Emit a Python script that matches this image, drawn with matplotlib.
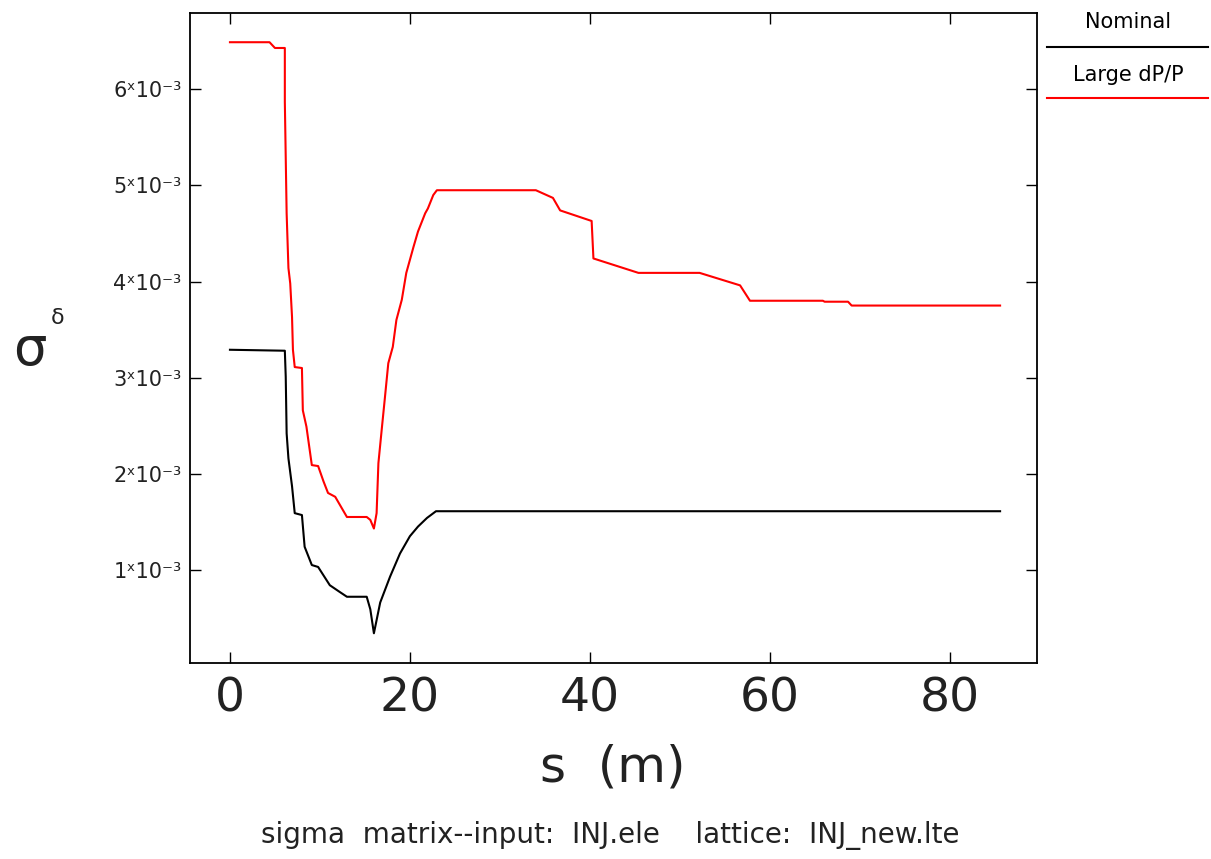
import numpy as np
import matplotlib.pyplot as plt
from matplotlib.lines import Line2D
from matplotlib.ticker import FuncFormatter

# Data (sigma in units of 1e-3)
s_nominal = [0, 6.1, 6.2, 6.3, 6.5, 6.9, 7.2, 8.0, 8.3, 9.1, 9.8, 11.1, 12.2,
             13.0, 15.2, 15.6, 16.0, 16.7, 17.8, 18.9, 20.0, 20.9, 21.9, 22.9, 85.6]
sig_nominal = [3.29, 3.28, 3.01, 2.42, 2.16, 1.87, 1.59, 1.57, 1.24, 1.05, 1.03, 0.84, 0.77,
               0.72, 0.72, 0.59, 0.34, 0.66, 0.93, 1.17, 1.35, 1.45, 1.54, 1.61, 1.61]

s_large = [0, 4.4, 5.0, 6.1, 6.1, 6.3, 6.5, 6.7, 6.9, 7.0, 7.2, 8.0, 8.1, 8.5, 9.1,
           9.8, 10.4, 10.9, 11.7, 13.0, 15.2, 15.6, 16.0, 16.3, 16.5, 16.9, 17.2,
           17.6, 18.1, 18.5, 19.1, 19.6, 20.4, 20.9, 21.7, 22.0, 22.6, 23.0, 34.0,
           35.9, 36.7, 40.2, 40.4, 45.4, 52.2, 56.7, 57.8, 65.9, 66.1, 68.7, 69.1, 85.6]
sig_large = [6.49, 6.49, 6.43, 6.43, 5.87, 4.71, 4.14, 3.98, 3.63, 3.29, 3.11, 3.10, 2.66,
             2.49, 2.09, 2.08, 1.92, 1.80, 1.76, 1.55, 1.55, 1.52, 1.43, 1.59, 2.11,
             2.49, 2.77, 3.15, 3.32, 3.60, 3.81, 4.09, 4.36, 4.52, 4.71, 4.76, 4.90,
             4.95, 4.95, 4.87, 4.74, 4.63, 4.24, 4.09, 4.09, 3.96, 3.80, 3.80, 3.79,
             3.79, 3.75, 3.75]

x_ticks = [0, 20, 40, 60, 80]
y_ticks = [1e-3, 2e-3, 3e-3, 4e-3, 5e-3, 6e-3]

fig = plt.figure(figsize=(12.11, 8.59), dpi=100)
ax = fig.add_axes([0.1569, 0.2282, 0.6994, 0.757])

ax.plot(s_nominal, np.array(sig_nominal) * 1e-3, color='black', lw=1.5)
ax.plot(s_large, np.array(sig_large) * 1e-3, color='#ff0000', lw=1.5)

ax.set_xlim(-4.44, 89.7)
ax.set_ylim(0.031e-3, 6.797e-3)
ax.set_xticks(x_ticks)
ax.set_yticks(y_ticks)
ax.yaxis.set_major_formatter(FuncFormatter(lambda v, p: f"{v * 1e3:.0f}\u02e310\u207b\u00b3"))
ax.tick_params(direction='in', length=8, width=1, top=True, right=True,
               labeltop=False, labelright=False)
ax.tick_params(axis='x', labelsize=34, pad=10)
ax.tick_params(axis='y', labelsize=15, pad=6)
for lab in ax.get_xticklabels() + ax.get_yticklabels():
    lab.set_color('#222222')
for sp in ax.spines.values():
    sp.set_linewidth(1.3)

# axis labels
fig.text(30 / 1211, 1 - 350 / 859, "\u03c3", fontsize=38, ha='center', va='center', color='#222222')
fig.text(58 / 1211, 1 - 318 / 859, "\u03b4", fontsize=16, ha='center', va='center', color='#222222')
fig.text(613 / 1211, 1 - 768 / 859, "s  (m)", fontsize=36, ha='center', va='center', color='#222222')
fig.text(610 / 1211, 1 - 835 / 859, "sigma  matrix--input:  INJ.ele    lattice:  INJ_new.lte",
         fontsize=20, ha='center', va='center', color='#222222')

# legend outside top-right
fig.text(1128 / 1211, 1 - 22 / 859, "Nominal", fontsize=15, ha='center', va='center')
fig.add_artist(Line2D([1047 / 1211, 1208 / 1211], [1 - 47 / 859, 1 - 47 / 859],
                      transform=fig.transFigure, color='black', lw=1.5))
fig.text(1128 / 1211, 1 - 75 / 859, "Large dP/P", fontsize=15, ha='center', va='center')
fig.add_artist(Line2D([1047 / 1211, 1208 / 1211], [1 - 98 / 859, 1 - 98 / 859],
                      transform=fig.transFigure, color='#ff0000', lw=1.5))

fig.savefig('out.png', dpi=100)
